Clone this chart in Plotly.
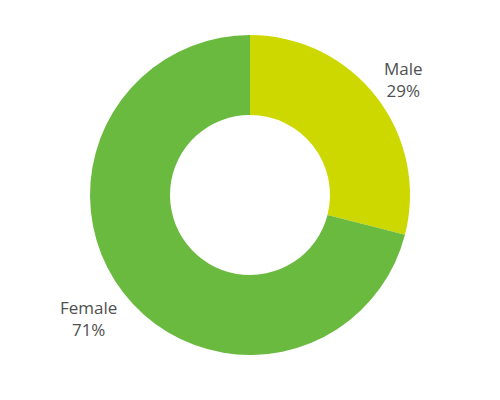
import plotly.graph_objects as go

labels = ["Male", "Female"]
values = [29, 71]
colors = ["#cdd800", "#6aba40"]

fig = go.Figure(
    go.Pie(
        labels=labels,
        values=values,
        hole=0.5,
        sort=False,
        direction="clockwise",
        rotation=0,
        marker=dict(colors=colors, line=dict(width=0)),
        textinfo="none",
        hoverinfo="label+percent",
        showlegend=False,
    )
)

# label positions (paper coords)
label_pos = [(0.817, 0.86), (0.167, 0.115)]
total = sum(values)
for lab, val, (x, y) in zip(labels, values, label_pos):
    fig.add_annotation(
        x=x,
        y=y,
        xref="paper",
        yref="paper",
        xanchor="center",
        yanchor="middle",
        text=f"{lab}<br>{val / total:.0%}",
        showarrow=False,
        font=dict(family="Open Sans", size=17, color="#505050"),
        align="center",
    )

fig.update_layout(
    width=500,
    height=400,
    margin=dict(l=0, r=16, t=27, b=53),
    paper_bgcolor="white",
    plot_bgcolor="white",
)

fig.write_html("out.html")
